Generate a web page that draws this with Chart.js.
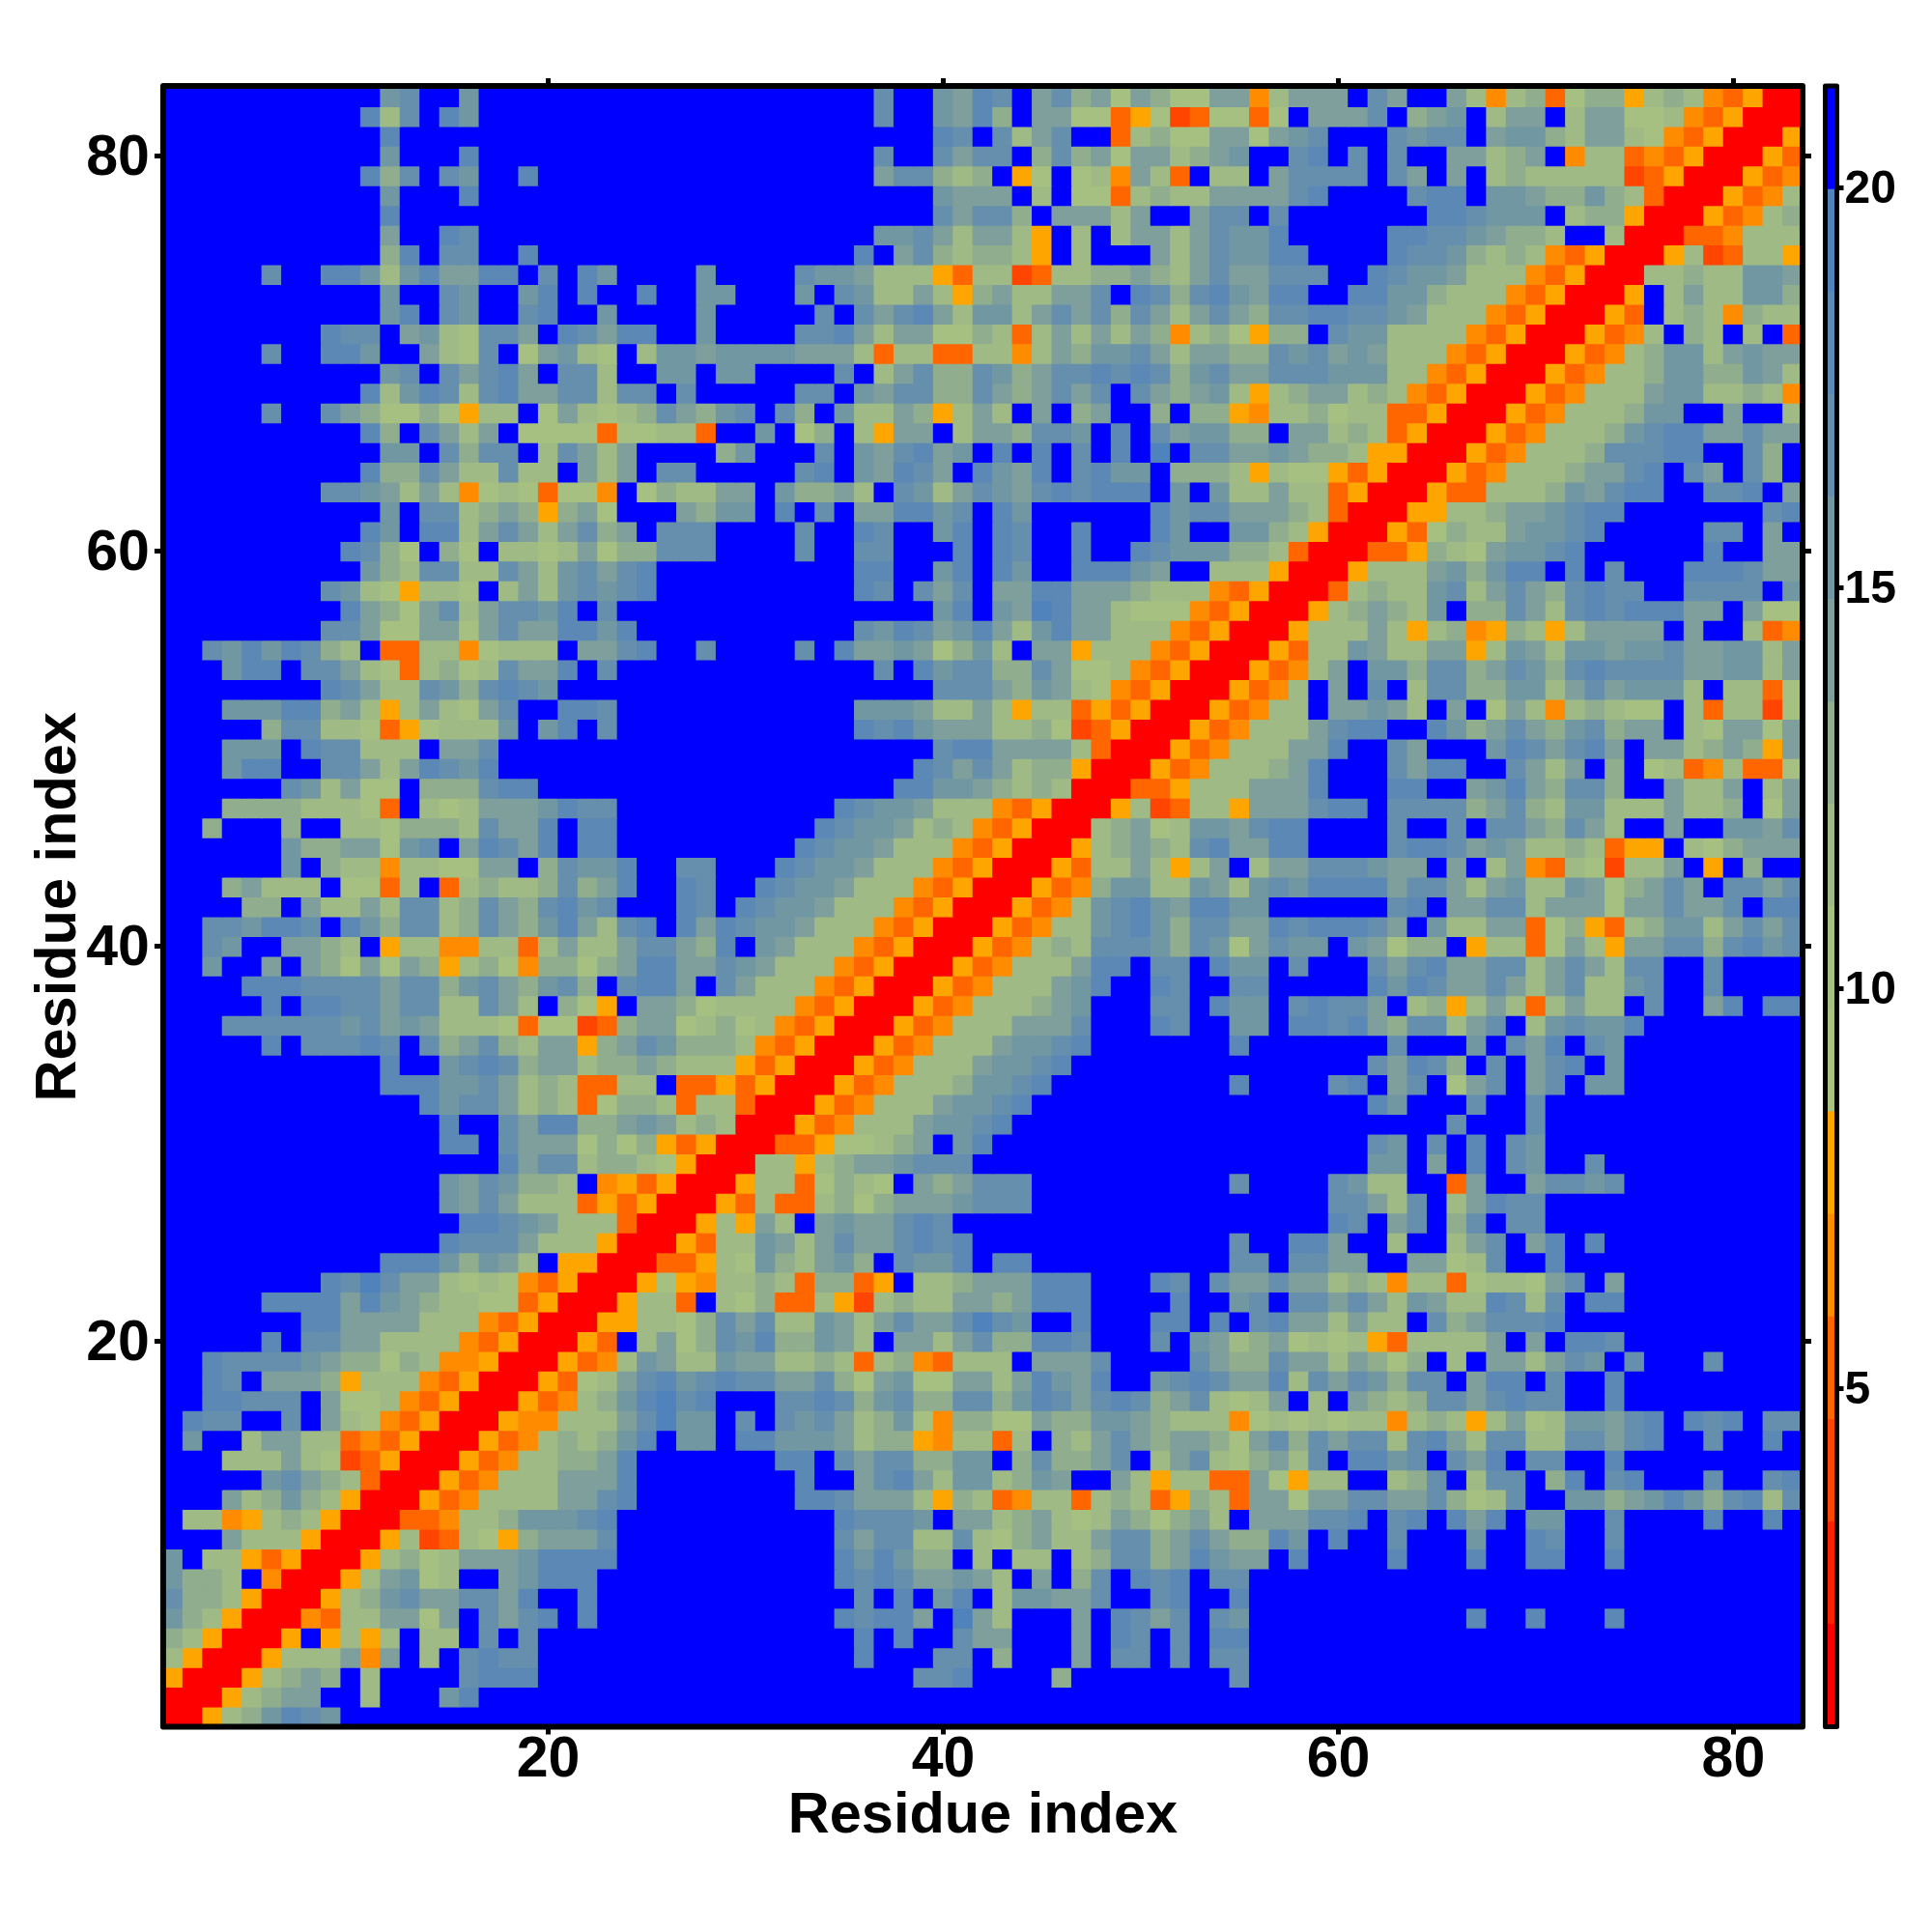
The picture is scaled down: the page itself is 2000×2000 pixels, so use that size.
<!DOCTYPE html>
<html>
<head>
<meta charset="utf-8">
<title>Residue contact map</title>
<script src="https://cdn.jsdelivr.net/npm/chart.js@4"></script>
<style>
  body { margin: 0; background: #fff; }
  canvas { position: absolute; left: 0; top: 0; }
</style>
</head>
<body>
<canvas id="map" width="2000" height="2000"></canvas>
<canvas id="bar" width="2000" height="2000"></canvas>
<script>
const axisTicks = [20, 40, 60, 80];
const colorbarTicks = [5, 10, 15, 20];
const bandEdges = [0.78, 2.06, 3.34, 4.62, 5.9, 7.18, 8.46, 9.74, 11.02, 12.3, 13.58, 14.86, 16.14, 17.42, 18.7, 19.98, 21.26];
const bandColors = ['#ff0000', '#ff2200', '#ff4500', '#ff6600', '#ff8c00', '#ffa500',
  '#a9c280', '#a6c081', '#a0ba85', '#90ad8e', '#7e9f9b', '#7197a3', '#658fac', '#5b88b4', '#5082bc', '#0000ff'];

// one string per row, residue 83 first. each char is the colour band (hex) of a cell
const rowCodes = [
  'fffffffffffbcffbffffffffffff ffffffffcffbadcfac9a7a977aa4 8aaafcaffa84893799589843500',
  'ffffffffffd8cfdbffffffffffff ffffffffcffbad9faa7735723773 7faaacf9abf8aaf8aa778435000',
  'fffffffffffdffffffffffffffff fffffffffffdcfc8acff38977aa7 abcfffcbccfabb98aa874350005',
  'fffffffffffbfffdffffffffffff ffffffffcffcaccf9c9a7aa89abf fcdfcfcffaa89af488343500053',
  'ffffffffffd9cfcbffdfffffffff ffffffffacc989f57f784a83f88f accccfcafaf8988888235000534',
  'fffffffffffbfffdffffffffffff fffffffffffbaaaf8f7738988aaa acdffffcddfbba99b9830005348',
  'fffffffffffdffffffffffffffff fffffffffffcacc9faaa8affaccf cfffffffddcbbbf899500053489',
  'fffffffffffaffdcffffffffffff ffffffffbbca8aa85f8f8aa8acbb dfffffddccba998ff8000334888',
  'fffffffffff9dfccffdfffffffff fffffffdfac989985f8fffa8acbb ddffffdccb98984350005823885',
  'fffffcffddb8bdaaddfcfdbffffb ffffcbba8885388238899a98acaa cccffdcbba88843500088988bba',
  'fffffffffffbffcbffbdfdffdffb bfffbfcb88a859a88aacfdc9cdba ddffddbb98884350005f8a88bb9',
  'fffffffffffbdfcbffcdffbffffb fffffcfcacda8bb8acac9ca8aca9 ccddccba88843500053f8984988',
  'ffffffffdccfab87ccafdcaddffb ffffccda8aa779838a8a8a948975 99fcbb88884350005348f98f8f3',
  'fffffcffddbffa87cf7ab87f8bba bbbbaaa8388338848a9bbca8aa99 cbcaba88843500053489bb8abaa',
  'fffffffffffbcfcacdafcc8ffbbf bbffffcf8ac99cb9accdcdc9bcaa cccbbb88435000534889bb99ba8',
  'ffffffffffd8bdc8cdaacc8ccfcf ffffccfbacc99ca9acacfca9ab85 89aa898435000534888abb88984',
  'fffffcffca97797588f7a8789ca9 bcfc9fb88a958a8faf9aff9f9954 8897883350005348889bbffaff8',
  'ffffffffffd9fca8af7777377883 ffbf79f85aaf8aa9ccbfdfcabb99 faa898350005348889bcddaacaa',
  'fffffffffffbbfc9ccf8ca8affff 9bfffcfbacdabfdfdfcfdfefccaa ba998550005348889cccddffc9f',
  'ffffffffffd99ca88c88fa8afccf ffffcdfbadcafdbadfcdbbf99985 8775350005348889aacdfcafc9f',
  'ffffffffccba8a847873774f7988 aafb99a8fcb8acbacdcdddfbfb88 a88350005338889bacddffccdfa',
  'fffffffffffbfcc89a959a7fffa9 bbfdfcfaaddbcfdbffffffdbccaa a98300055889aabcddfffffffcd',
  'ffffffffffdbfdd8aca8ac9afccc ffffcffdcffbdfdcffdfffdbffbb 985000537988abbcdfffffccfaf',
  'fffffffffdc97f97f8878a799ccc ffffcffccfffdfdcffdffdcbbb99 83000335987abbcdffffffdffaa',
  'ffffffffffb98cc88ca8bcacdfff fffffffddffbdfdbffdddbaff888 50005888ab9bddfdfcfffdddcaa',
  'ffffffffcb875887f8a8bcbcdfff fffffffdcfcacfaaddaaa9888435 00038988bc8aca9cdccffccccfb',
  'fffffffffda97ac8accbdfcfffff fffffffffffbdfbaedaa87774350 00589a98bf99ca8cdcdddaafa77',
  'ffffffffcca77aa7acaaddbdffff fffffffcbdcabda8bdaa88843500 05888a8589459858aaaafaff834',
  'ffcbdbdc98f338847888faacdffc ffffcfdaaba79b8faa5888435000 5388ba88aa58ba8bbabbcaabb8a',
  'fffbddfcca8738978caadfcfffff ffffffffcfdbcc99ca7784350005 348afbb9cc9acb9cdccccaabb8a',
  'ffffffffdca88cb9cdcbffffffff fffffffffffccca9ba8743500053 48fafcf8cc99bb8acabbb8f8837',
  'fffbbbdd9a858a87acffddcfffff fffffffbbba88a85883535000534 88faaba8faf7a8489877f838827',
  'fffff9cc887357888bfbdfcfffff fffffffdcdbaaa88972350005348 88acddffdb9aca9bc9aaf87aa7a',
  'fffbbbfdcc888faacfffffffffff fffffffffffcddaaaa8300053488 8aadffcafffbdcacdafaa89a95a',
  'fffbddffcca8adcbdfffffffffff ffffffffffdcaca8995000534888 9adfffcaddffca8af9f78348337',
  'ffffffcb8a77f999cddfffffffff fffffffffddbba9898000335888a aadfffddffabda9cc9ffa88af8a',
  'fff999988873f878aaabdccfffff ffffffdcbba8884350005823885a aacddfcccc9ac98bb888a889f7a',
  'ff9fff9ff8879998caadfddfffff fffffdcbba89843500089a78bbac ddffffcffcfcca9ca8ffaffbbac',
  'ffffffb99aa7bcfadcadfddfffff ffffdcbba888435000589a98cdaa ddffffcddcaba8898355f879aaa',
  'ffffffbf98848877aaf9cbbdffcc fffdcbba8884350005388a858af8 aacccbaafaf8a4387288af5f9ff',
  'fff9a888f7738f389889c9adffdc ffdcbba8884350005349bb88ba8b cbddddacca8ab88ba79acafccac',
  'ffff99fa88a8cc89ca9cdbcfffdc fdcbba8884350005348bcdbaddbb ffffffcdfaacc8aaa7aacaacfdd',
  'ffccbddcfdb9cc89ca9bda8cdfda dcbba88843500053488bcdb9ccaa dcdddcafb88aa3795389bb8acac',
  'ffcbffaa98f588448838a88acca9 dfba888435000534898cccb9cb7a cbbfba799f58837a85aacc9cdbc',
  'ffbffafa97a7a9589749979addaa cba888435000534888addfccfdbb fcfffcacdaacc8aca8ccffcffff',
  'ffffdddccccacc9bca9bc9fcddaf ca888435000534888abdffdcffcc fffffdbdcaaca8ac88bcffcffff',
  'fffffdfddccacc88ca8f975faa97 88884350005348889abfffccfdbb fcdccaf8958a838a88fcffadfdd',
  'fffccccccbcaba8887377239aa78 978435000534888aaacfffdcffbb fddcda9cc8acf8bcbbdffffffff',
  'fffffdfcccdcfc9ac98aa59acb99 98435000534888abbcdfffffffdf ffffffcfffbfcadfcbfffffffff',
  'fffffffffffdffbcdc9aa899a988 8535000534888abbcdffffffffff fffffcadc9fcfacdfbfffffffff',
  'fffffffffffdddbbca8983388f33 5350005348889bbcdfffffffffdf fffcdfacf7acfacfbbfffffffff',
  'fffffffffffffdbcca8983799838 83000534888abbcdffffffffffff fffffdbfffcffcfffffffffffff',
  'ffffffffffffffdffcadd99aba89 8000534888abbcdfffffffffffff fffffffffcfffcfffffffffffff',
  'ffffffffffffffddfcaaa7979535 0003357789afbdffffffffffffff fffffcbfcfdfcbfffffffffffff',
  'fffffffffffffffffdacc8998750 0088589aabcccfffffffffffffff fffffbbfafdfcbffcffffffffff',
  'ffffffffffffffbacb998f453500 058837987fa9acccffffffffffcf fffcb88ff3affaccbcfffffffff',
  'ffffffffffffffbaca8883535000 538338979aaabcccffffffffffff fffcca8cf8adccfffffffffffff',
  'fffffffffffffffddcba88830005 85a8fabaacdcffffffffffffffff fffdcfacf9cfccfffffffffffff',
  'ffffffffffffffdccca888500053 88ba8acaacdcdfffffffffffffcf fddaff8ff8acfadfdffffffffff',
  'fffffffffffdddb9ba8f55000335 87b98ab9fcbbdfddffffffffffcc fccaaffaa78cffdffffffffffff',
  'ffffffffdcecaa87874350005754 889839935f889aaadddfffdcfcaa caa89848837887acfafffffffff',
  'fffffddddadba98877350005883f 879338528988aa9adddffffdffbc fccaca8ba88dc8cfddfffffffff',
  'fffffffddaaaa888435000558879 cac88ba8acaacecbffdfffddfdfc daa8a88fc9acccdffffffffffff',
  'fffffdfccaa888843500053f8a79 cbd99ba8faa8ac99ddcfffcfba89 a7878538888afafddcfffffffff',
  'ffdccccba997984450005348ba88 baa889838943888faaacffffca99 caa8a979f8faa8acbfcfffcffff',
  'ffdcfaaa958884350005378acdbc dccaac97ab77aa8adbadffbcdcaa d8cacb9ccfaddfcffdfffffffff',
  'ffddcccfa77843500053489bdecd fffccdc9bc99cc9bdcacdc9ac878 af8fa989ccacdccffdfffffffff',
  'fdccffcfa87435000544888acebb fcfcbca89b749977a99bba988847 878788489858a78bbacdfdcdfcc',
  'fbff8aa8834350005348989bdfbb fddbbba899548838f98aca9aa97a c9cacc8cda8cc88ccacdffcffdf',
  'fff888a872350005348899adffff fffddfcacc99bbf9c99acf8ac879 a8cfddbcfcadfccffdfffffffff',
  'fffffbca983000534888aaadffff ffffdffacda8bb89baffa858833a 7588ff89cf8ccf9dfcdfffcffcd',
  'fffa89b9850005348888aacdffff ffffddcaaa85983488389835983a a7aaccaac978cffbb9abdb9cd8c',
  'f88458985000334889bbbcdfffff ffffffdcccbfaa89a878a979a8fa aaccdfcdfdadfbbffcffffdffdf',
  'fffa888500058238759aaacfffff ffffffcacc88c879a88acc9aca99 dbfdffcfffbffdcffcfffffffff',
  'bf8853500058978aaabddddfffff ffffffdbdb99f8f88f89cc9adbaa fdffffdfffdffddffdfffffffff',
  'b998f400058ab78ffabdddffffff ffffffdcdcaaba8faf9cfdcdfccf fffffffffffffffffffffffffff',
  'c9985000589bcaaccadffdffffff fffffffcfdfbdf8bbaacffcdffdf fffffffffffffffffffffffffff',
  'b9850004388aa7afcacdfdffffff ffffffdcddafea8fffafdcacfcbf ffffffffffdffdfffdfffffffff',
  '9850005f5858f88fcfcfffffffff fffffffdfdffcaafffafdcfcfddf fffffffffffffffffffffffffff',
  '850005888a4af8fcdccfffffffff fffffffdfffccf9fffafccfcfccf fffffffffffffffffffffffffff',
  '5000589a9f8ffffcdddfffffffff ffffffffffccdffff9ffffffffcf fffffffffffffffffffffffffff',
  '000589aaff8fffbdffffffffffff ffffffffffffffffffffffffffff fffffffffffffffffffffffffff',
  '00589bdcbfffffffffffffffffff ffffffffffffffffffffffffffff fffffffffffffffffffffffffff'
];

const cleanRows = rowCodes.map(r => r.replace(/ /g, ''));

const fontFamily = '"Liberation Sans", Arial, sans-serif';

// black box round the plot area, thicker than the library's axis border corners allow
const frame = {
  id: 'frame',
  afterDraw(chart, args, opts) {
    const { ctx, chartArea: a } = chart;
    ctx.save();
    ctx.strokeStyle = '#000';
    ctx.lineWidth = opts.width;
    ctx.lineJoin = 'round';
    ctx.strokeRect(a.left, a.top - 1, a.right - a.left, a.bottom - a.top + 1);
    ctx.restore();
  }
};

function fixedSize(side, size) {
  return scale => { scale[side] = size; };
}

function onlyTicks(values) {
  return scale => { scale.ticks = values.map(v => ({ value: v })); };
}

const mapDatasets = cleanRows.map((row, i) => {
  const y = 83 - i;
  const cells = [...row];
  return {
    data: cells.map((c, j) => ({ x: j + 1, y: [y - 0.5, y + 0.5] })),
    backgroundColor: cells.map(c => bandColors[parseInt(c, 16)]),
    borderWidth: 0,
    inflateAmount: 0.5,
    grouped: false,
    barPercentage: 1,
    categoryPercentage: 1
  };
});

function sideAxis(position, size, labelled) {
  const horizontal = position === 'top' || position === 'bottom';
  const bottom = position === 'bottom';
  return {
    type: 'linear',
    position,
    min: 0.5,
    max: 83.5,
    offset: false,
    afterBuildTicks: onlyTicks(axisTicks),
    afterFit: fixedSize(horizontal ? 'height' : 'width', size),
    border: { display: false },
    grid: { offset: false, drawOnChartArea: false, drawTicks: true, tickLength: bottom ? 8 : 9, tickWidth: 5, tickColor: '#000' },
    ticks: {
      display: labelled,
      autoSkip: false,
      maxRotation: 0,
      padding: bottom ? -8 : 5,
      labelOffset: bottom ? 0 : 3,
      color: '#000',
      font: { family: fontFamily, size: 59, weight: 'bold' }
    },
    title: {
      display: labelled,
      text: 'Residue index',
      color: '#000',
      font: { family: fontFamily, size: 59.5, weight: 'bold' },
      padding: bottom ? { top: 0, bottom: 84 } : { top: 26, bottom: 0 }
    }
  };
}

new Chart(document.getElementById('map'), {
  type: 'bar',
  data: { datasets: mapDatasets },
  plugins: [frame],
  options: {
    responsive: false,
    animation: false,
    events: [],
    layout: { padding: 0 },
    plugins: { legend: { display: false }, tooltip: { enabled: false }, frame: { width: 6 } },
    scales: {
      x: sideAxis('bottom', 212.5, true),
      y: sideAxis('left', 168.9, true),
      xTop: sideAxis('top', 90, false),
      yRight: sideAxis('right', 134, false)
    }
  }
});

new Chart(document.getElementById('bar'), {
  type: 'bar',
  data: {
    labels: [''],
    datasets: bandColors.map((color, i) => ({
      data: [[bandEdges[i], bandEdges[i + 1]]],
      backgroundColor: color,
      borderWidth: 0,
      grouped: false,
      barPercentage: 1,
      categoryPercentage: 1
    }))
  },
  plugins: [frame],
  options: {
    responsive: false,
    animation: false,
    events: [],
    layout: { padding: { left: 1889.5, top: 90, bottom: 212.5, right: 0 } },
    plugins: { legend: { display: false }, tooltip: { enabled: false }, frame: { width: 5 } },
    scales: {
      x: {
        display: false
      },
      y: {
        position: 'right',
        min: bandEdges[0],
        max: bandEdges[16],
        afterBuildTicks: onlyTicks(colorbarTicks),
        afterFit: fixedSize('width', 98.5),
        border: { display: false },
        grid: { drawOnChartArea: false, drawTicks: true, tickLength: 7, tickWidth: 5, tickColor: '#000' },
        ticks: {
          autoSkip: false,
          padding: 1,
          labelOffset: 2,
          color: '#000',
          font: { family: fontFamily, size: 48, weight: 'bold' }
        }
      }
    }
  }
});
</script>
</body>
</html>
